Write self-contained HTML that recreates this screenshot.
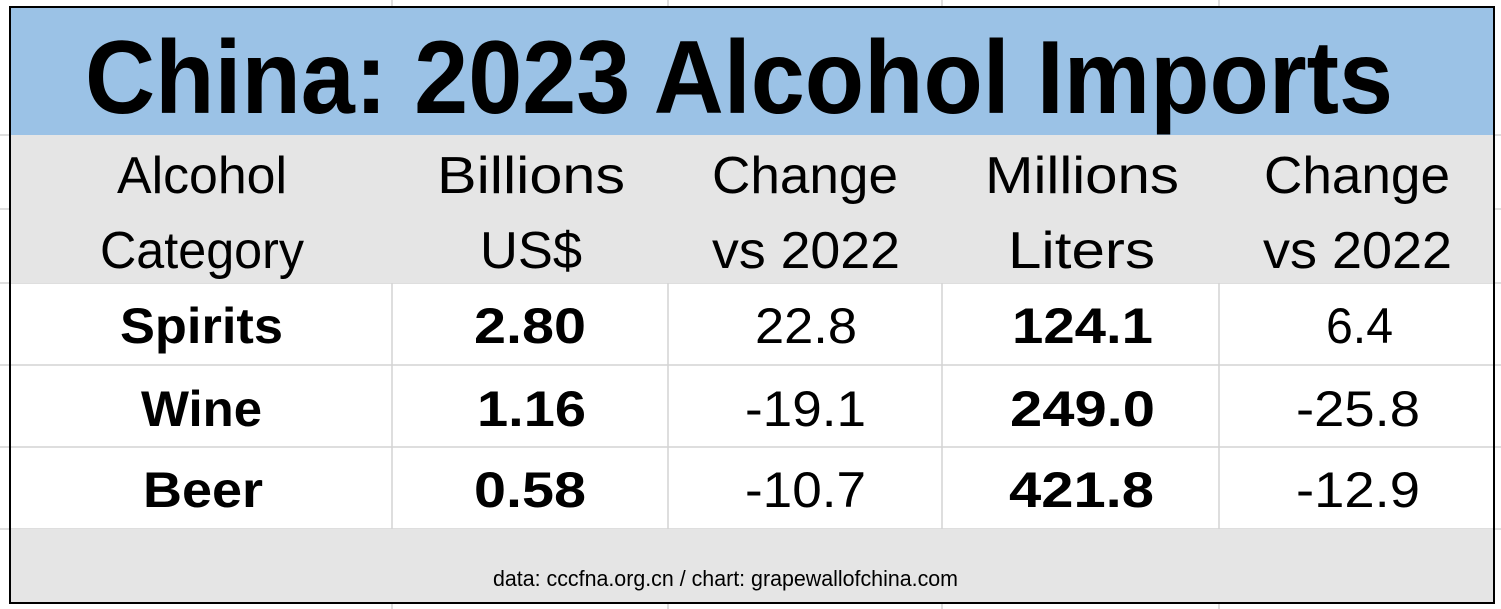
<!DOCTYPE html>
<html><head><style>
html,body{margin:0;padding:0;background:#fff;}
svg{display:block;}
text{font-family:"Liberation Sans",sans-serif;fill:#000;}
</style></head><body>
<svg width="1501" height="609" viewBox="0 0 1501 609" xmlns="http://www.w3.org/2000/svg">
<g stroke="#d4d4d4" stroke-width="1.5">
<line x1="392" y1="0" x2="392" y2="609"/><line x1="668" y1="0" x2="668" y2="609"/>
<line x1="942" y1="0" x2="942" y2="609"/><line x1="1219" y1="0" x2="1219" y2="609"/>
<line x1="0" y1="135" x2="1501" y2="135"/><line x1="0" y1="209" x2="1501" y2="209"/>
<line x1="0" y1="283" x2="1501" y2="283"/><line x1="0" y1="365" x2="1501" y2="365"/>
<line x1="0" y1="447" x2="1501" y2="447"/><line x1="0" y1="529" x2="1501" y2="529"/>
</g>
<rect x="10" y="7" width="1484" height="128" fill="#9bc2e6"/>
<rect x="10" y="135" width="1484" height="148" fill="#e5e5e5"/>
<rect x="10" y="529" width="1484" height="74" fill="#e5e5e5"/>
<rect x="10" y="7" width="1484" height="596" fill="none" stroke="#000" stroke-width="2"/>
<text x="85" y="113" font-size="104" font-weight="bold" textLength="1308" lengthAdjust="spacingAndGlyphs">China: 2023 Alcohol Imports</text>
<g font-size="52">
<text x="117" y="193" textLength="170" lengthAdjust="spacingAndGlyphs">Alcohol</text>
<text x="100" y="268" textLength="204" lengthAdjust="spacingAndGlyphs">Category</text>
<text x="437" y="193" textLength="188" lengthAdjust="spacingAndGlyphs">Billions</text>
<text x="480" y="268" textLength="102" lengthAdjust="spacingAndGlyphs">US$</text>
<text x="712" y="193" textLength="186" lengthAdjust="spacingAndGlyphs">Change</text>
<text x="712" y="268" textLength="188" lengthAdjust="spacingAndGlyphs">vs 2022</text>
<text x="985" y="193" textLength="194" lengthAdjust="spacingAndGlyphs">Millions</text>
<text x="1008" y="268" textLength="147" lengthAdjust="spacingAndGlyphs">Liters</text>
<text x="1264" y="193" textLength="186" lengthAdjust="spacingAndGlyphs">Change</text>
<text x="1263" y="268" textLength="189" lengthAdjust="spacingAndGlyphs">vs 2022</text>
</g>
<g font-size="50" font-weight="bold">
<text x="120" y="343" textLength="163" lengthAdjust="spacingAndGlyphs">Spirits</text>
<text x="474" y="343" textLength="112" lengthAdjust="spacingAndGlyphs">2.80</text>
<text x="1012" y="343" textLength="141" lengthAdjust="spacingAndGlyphs">124.1</text>
<text x="141" y="426" textLength="121" lengthAdjust="spacingAndGlyphs">Wine</text>
<text x="477" y="426" textLength="109" lengthAdjust="spacingAndGlyphs">1.16</text>
<text x="1010" y="426" textLength="145" lengthAdjust="spacingAndGlyphs">249.0</text>
<text x="143" y="507" textLength="120" lengthAdjust="spacingAndGlyphs">Beer</text>
<text x="474" y="507" textLength="112" lengthAdjust="spacingAndGlyphs">0.58</text>
<text x="1009" y="507" textLength="145" lengthAdjust="spacingAndGlyphs">421.8</text>
</g>
<g font-size="50">
<text x="755" y="343" textLength="102" lengthAdjust="spacingAndGlyphs">22.8</text>
<text x="1326" y="343" textLength="67" lengthAdjust="spacingAndGlyphs">6.4</text>
<text x="745" y="426" textLength="121" lengthAdjust="spacingAndGlyphs">-19.1</text>
<text x="1296" y="426" textLength="124" lengthAdjust="spacingAndGlyphs">-25.8</text>
<text x="745" y="507" textLength="121" lengthAdjust="spacingAndGlyphs">-10.7</text>
<text x="1296" y="507" textLength="124" lengthAdjust="spacingAndGlyphs">-12.9</text>
</g>
<text x="493" y="586" font-size="22" textLength="465" lengthAdjust="spacingAndGlyphs">data: cccfna.org.cn / chart: grapewallofchina.com</text>
</svg>
</body></html>
